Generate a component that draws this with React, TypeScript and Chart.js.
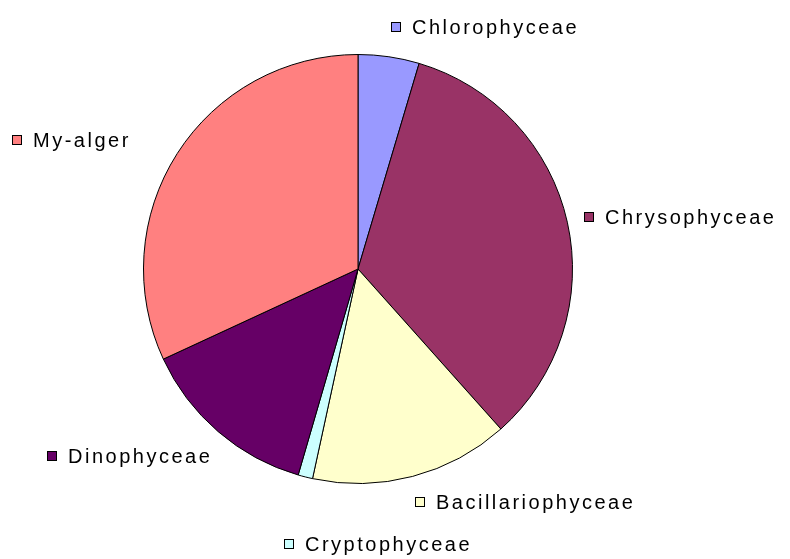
import React, { useEffect, useRef } from 'react';
import { Chart, registerables } from 'chart.js';

Chart.register(...registerables);

const categories = ['Chlorophyceae', 'Chrysophyceae', 'Bacillariophyceae', 'Cryptophyceae', 'Dinophyceae', 'My-alger'];
const shares = [4.6, 33.8, 15.0, 1.1, 13.6, 31.9];
const sliceColors = ['#9999FF', '#993366', '#FFFFCC', '#CCFFFF', '#660066', '#FF8080'];

// label placement tweaks (relative to the computed anchor beside each slice)
const labelNudges = [
  { dx: 0, dy: -6 },
  { dx: 5, dy: 0 },
  { dx: -1, dy: 2 },
  { dx: 170, dy: 44 },
  { dx: 2, dy: 6 },
  { dx: -36, dy: -1 },
];

const FONT = '20px "Liberation Sans", Arial, sans-serif';
const SPACING = '2.5px';

const outsideLabels = {
  id: 'outsideLabels',
  afterDatasetsDraw(chart: any) {
    const ctx = chart.ctx as CanvasRenderingContext2D;
    const meta = chart.getDatasetMeta(0);
    ctx.save();
    ctx.font = FONT;
    (ctx as any).letterSpacing = SPACING;
    ctx.textBaseline = 'middle';
    meta.data.forEach((arc: any, i: number) => {
      const { x, y, startAngle, endAngle, outerRadius } = arc.getProps(['x', 'y', 'startAngle', 'endAngle', 'outerRadius'], true);
      const mid = (startAngle + endAngle) / 2;
      const ux = Math.cos(mid);
      const uy = Math.sin(mid);
      const r = outerRadius + 12;
      const ax = x + ux * r;
      const ay = y + uy * r;
      const text = categories[i];
      const tw = ctx.measureText(text).width;
      const boxW = 10 + 11 + tw;
      let left = ux >= 0 ? ax : ax - boxW;
      let cy = ay + uy * 12;
      left += labelNudges[i].dx;
      cy += labelNudges[i].dy;
      left = Math.round(left);
      cy = Math.round(cy);
      ctx.fillStyle = sliceColors[i];
      ctx.fillRect(left, cy - 5, 10, 10);
      ctx.strokeStyle = '#000';
      ctx.lineWidth = 1;
      ctx.strokeRect(left + 0.5, cy - 4.5, 9, 9);
      ctx.fillStyle = '#000';
      ctx.textAlign = 'left';
      ctx.fillText(text, left + 21, cy + 1);
    });
    ctx.restore();
  },
};

export default function App() {
  const ref = useRef<HTMLCanvasElement | null>(null);
  useEffect(() => {
    document.body.style.margin = '0';
    const canvas = ref.current!;
    const chart = new Chart(canvas, {
      type: 'pie',
      data: {
        labels: categories,
        datasets: [
          {
            data: shares,
            backgroundColor: sliceColors,
            borderColor: '#000000',
            borderWidth: 1,
          },
        ],
      },
      options: {
        responsive: false,
        animation: false,
        devicePixelRatio: 1,
        layout: { padding: { top: 54, bottom: 75, left: 143, right: 217 } },
        plugins: {
          legend: { display: false },
          tooltip: { enabled: false },
        },
      },
      plugins: [outsideLabels],
    });
    return () => chart.destroy();
  }, []);
  return (
    <div style={{ width: 790, height: 559, background: '#fff' }}>
      <canvas ref={ref} width={790} height={559} style={{ display: 'block' }} />
    </div>
  );
}
